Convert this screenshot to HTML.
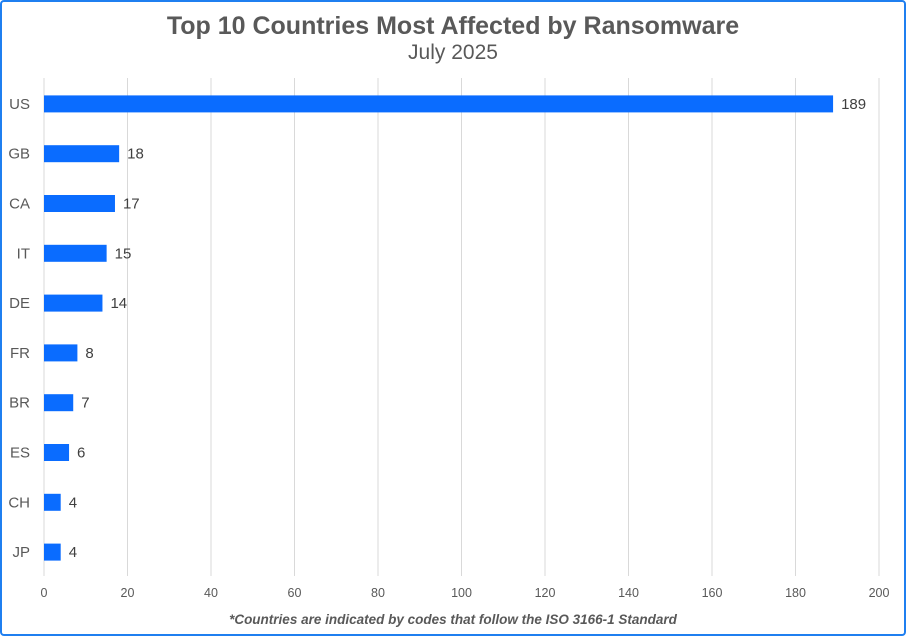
<!DOCTYPE html>
<html><head><meta charset="utf-8"><style>
html,body{margin:0;padding:0;background:#fff}
#wrap{position:relative;width:902px;height:632px;border:2px solid #1f7ff0;border-radius:4px;font-family:"Liberation Sans",sans-serif;overflow:hidden}
</style></head><body>
<div id="wrap">
<svg id="chart" width="902" height="632">
<text x="451" y="32" text-anchor="middle" font-size="25" font-weight="bold" fill="#595959">Top 10 Countries Most Affected by Ransomware</text>
<text x="451" y="57" text-anchor="middle" font-size="21" fill="#595959">July 2025</text>
<text x="451" y="622" text-anchor="middle" font-size="13.5" font-weight="bold" font-style="italic" fill="#595959">*Countries are indicated by codes that follow the ISO 3166-1 Standard</text>
<g id="grid"></g><g id="bars"></g>
</svg>
</div>
<script>
const categories=["US","GB","CA","IT","DE","FR","BR","ES","CH","JP"];
const values=[189,18,17,15,14,8,7,6,4,4];
const ticks=[0,20,40,60,80,100,120,140,160,180,200];
const ns="http://www.w3.org/2000/svg";
const ox=-2, oy=-2;
const px0=44+ox, px1=879+ox, pTop=78+oy, pBot=576+oy;
const xs=v=>px0+(v/200)*(px1-px0);
const band=(pBot-pTop)/categories.length;
const yc=i=>pTop+band*(i+0.5)+1;
const g=document.getElementById('grid'), b=document.getElementById('bars');
function mk(tag,attrs,parent,text){const e=document.createElementNS(ns,tag);for(const k in attrs)e.setAttribute(k,attrs[k]);if(text!==undefined)e.textContent=text;parent.appendChild(e);return e;}
ticks.forEach(t=>{
  const l=mk('line',{x1:xs(t),x2:xs(t),y1:pTop,y2:pBot,stroke:'#d9d9d9','stroke-width':1},g);
  
  
  const tx=mk('text',{x:xs(t),y:597+oy,'text-anchor':'middle','font-size':12.5,fill:'#595959'},g,t);
  
  
});
categories.forEach((c,i)=>{
  const r=mk('rect',{x:xs(0),y:yc(i)-8.5,width:xs(values[i])-xs(0),height:17,fill:'#0a6cff'},b);
  
  
  const lab=mk('text',{x:30+ox,y:yc(i)+5,'text-anchor':'end','font-size':15,fill:'#595959'},b,c);
  
  
  const v=mk('text',{x:xs(values[i])+8,y:yc(i)+5,'font-size':15,fill:'#404040'},b,values[i]);
  
  
});
</script>
</body></html>
